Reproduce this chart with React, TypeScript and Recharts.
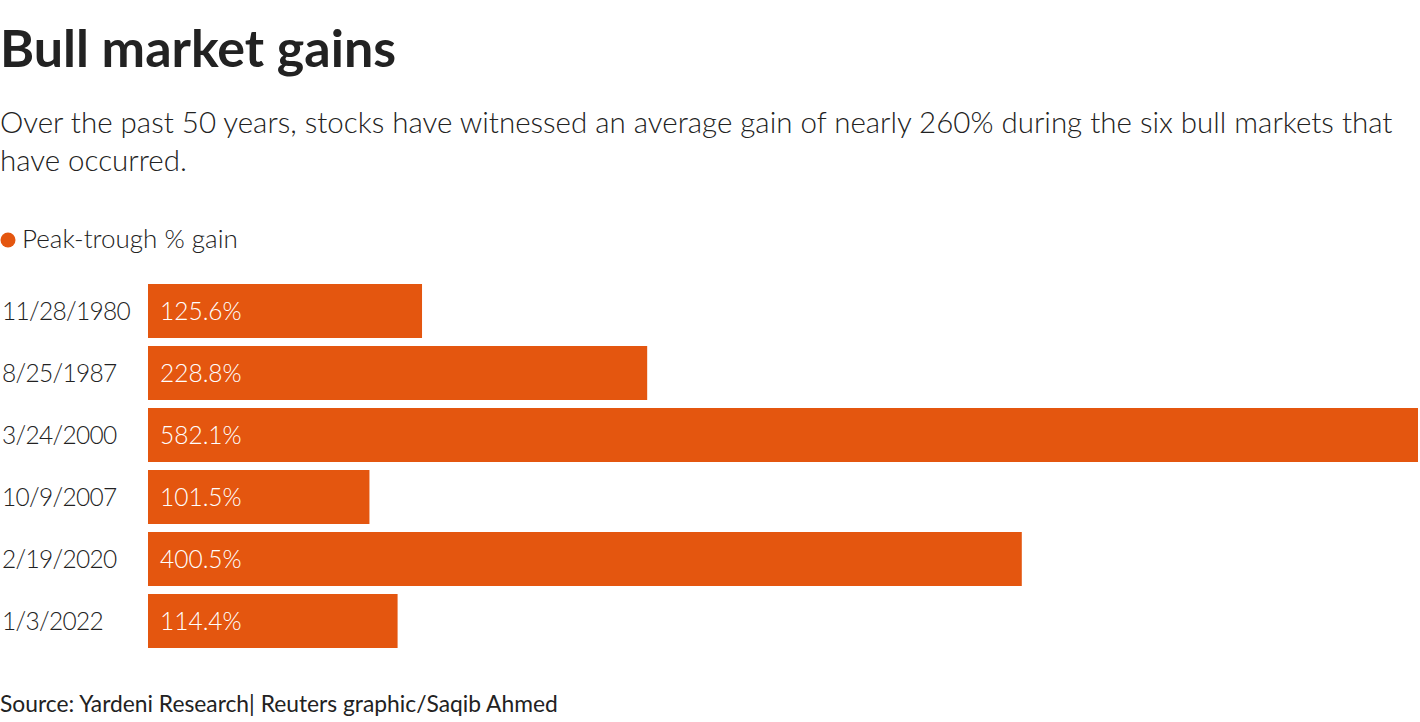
import React from "react";
import { BarChart, Bar, XAxis, YAxis, LabelList } from "recharts";

const categories = ["11/28/1980", "8/25/1987", "3/24/2000", "10/9/2007", "2/19/2020", "1/3/2022"];
const gains = [125.6, 228.8, 582.1, 101.5, 400.5, 114.4];
const seriesName = "Peak-trough % gain";
const title = "Bull market gains";
const subtitleLines = [
  "Over the past 50 years, stocks have witnessed an average gain of nearly 260% during the six bull markets that",
  "have occurred.",
];
const source = "Source: Yardeni Research| Reuters graphic/Saqib Ahmed";

const data = categories.map((c, i) => ({ name: c, value: gains[i] }));

const FONT = "Lato, 'Open Sans', sans-serif";
const ORANGE = "#e4560f";
const TEXT = "#222222";

const CatTick = (props: any) => {
  const { y, payload } = props;
  return (
    <text x={2} y={y} dy={9} textAnchor="start" fontFamily={FONT} fontWeight={300} fontSize={24.5} letterSpacing={-0.7} fill={TEXT}>
      {payload.value}
    </text>
  );
};

export default function App() {
  return (
    <div style={{ position: "absolute", left: 0, top: 0, width: 1420, height: 722, background: "#fff", overflow: "hidden" }}>
      <svg width={1420} height={722} style={{ position: "absolute", left: 0, top: 0 }}>
        <text x={0} y={67} fontFamily={FONT} fontWeight={700} fontSize={52} fill={TEXT}>{title}</text>
        {subtitleLines.map((l, i) => (
          <text key={i} x={0} y={133 + i * 38} fontFamily={FONT} fontWeight={300} fontSize={29.5} fill={TEXT}>{l}</text>
        ))}
        <circle cx={8} cy={240} r={7.5} fill={ORANGE} />
        <text x={22} y={248} fontFamily={FONT} fontWeight={300} fontSize={26} fill={TEXT}>{seriesName}</text>
        <text x={0} y={712} fontFamily={FONT} fontWeight={400} fontSize={22.8} fill={TEXT}>{source}</text>
      </svg>
      <div style={{ position: "absolute", left: 0, top: 280 }}>
        <BarChart
          width={1420}
          height={372}
          data={data}
          layout="vertical"
          margin={{ top: 0, right: 2, bottom: 0, left: 0 }}
          barSize={54}
        >
          <XAxis type="number" hide domain={[0, 582.1]} />
          <YAxis
            type="category"
            dataKey="name"
            width={148}
            axisLine={false}
            tickLine={false}
            tick={<CatTick />}
          />
          <Bar dataKey="value" fill={ORANGE} isAnimationActive={false}>
            <LabelList
              dataKey="value"
              position="insideLeft"
              offset={12}
              formatter={(v: any) => `${Number(v).toFixed(1)}%`}
              fill="#ffffff"
              fontFamily={FONT}
              fontWeight={300}
              fontSize={24.5}
            />
          </Bar>
        </BarChart>
      </div>
    </div>
  );
}
